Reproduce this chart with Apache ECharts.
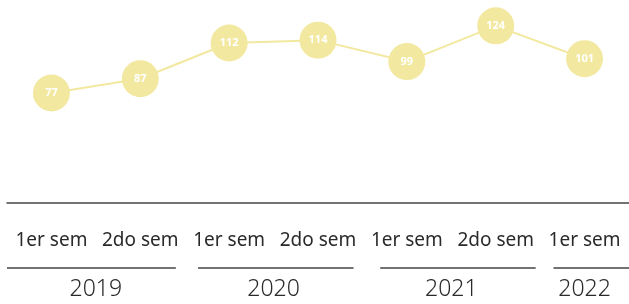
<!DOCTYPE html>
<html>
<head>
<meta charset="utf-8">
<script src="https://cdn.jsdelivr.net/npm/echarts@6/dist/echarts.min.js"></script>
<style>
  html, body { margin: 0; padding: 0; background: #fff; }
  #app { width: 629px; height: 304px; }
</style>
</head>
<body>
<div id="app"></div>
<script>
// semesters and values
var semesters = ['1er sem', '2do sem', '1er sem', '2do sem', '1er sem', '2do sem', '1er sem'];
var values = [77, 87, 112, 114, 99, 124, 101];
var years = ['2019', '2020', '2021', '2022'];
var yearCenters = [1, 3, 5, 6.5];          // in semester units
var yearSpans = [[0, 1.9], [2.15, 3.9], [4.2, 5.95], [6.15, 7]];

var yellow = '#f2e8a0';
var ink = '#2a2a2a';

var myChart = echarts.init(document.getElementById('app'));

var option = {
    animation: false,
    textStyle: { fontFamily: 'Noto Sans' },
    grid: { left: 7, width: 625, top: 3, height: 200 },
    xAxis: [
        {
            type: 'category',
            data: semesters,
            boundaryGap: true,
            offset: 17,
            axisLine: { lineStyle: { color: '#444', width: 1.5 } },
            axisTick: { show: false },
            axisLabel: { color: ink, fontSize: 19, margin: 11, interval: 0 }
        },
        {
            type: 'value',
            min: 0,
            max: 7,
            position: 'bottom',
            offset: 60,
            axisLine: { show: false },
            axisTick: { show: false },
            splitLine: { show: false },
            axisLabel: {
                customValues: yearCenters,
                color: ink,
                fontSize: 23,
                fontWeight: 300,
                margin: 15,
                formatter: function (v) {
                    return years[yearCenters.indexOf(v)];
                }
            }
        }
    ],
    yAxis: {
        type: 'value',
        min: 0,
        max: 140,
        show: false
    },
    series: [
        {
            type: 'line',
            data: values,
            xAxisIndex: 0,
            symbol: 'circle',
            symbolSize: 37,
            itemStyle: { color: yellow },
            lineStyle: { color: yellow, width: 2 },
            label: {
                show: true,
                position: 'inside',
                color: '#fff',
                fontSize: 11,
                fontWeight: 'bold'
            }
        },
        {
            type: 'scatter',
            xAxisIndex: 1,
            data: [],
            silent: true
        }
    ]
};

myChart.setOption(option);

// year underline segments placed through the year axis scale
var lineY = 268;
myChart.setOption({
    graphic: yearSpans.map(function (s) {
        var x1 = myChart.convertToPixel({ xAxisIndex: 1 }, s[0]);
        var x2 = myChart.convertToPixel({ xAxisIndex: 1 }, s[1]);
        return {
            type: 'line',
            shape: { x1: x1, y1: lineY, x2: x2, y2: lineY },
            style: { stroke: '#444', lineWidth: 1.5 }
        };
    })
});
</script>
</body>
</html>
